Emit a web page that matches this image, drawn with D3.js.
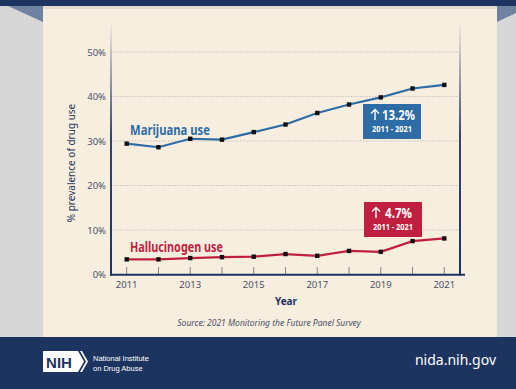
<!DOCTYPE html>
<html>
<head>
<meta charset="utf-8">
<script src="https://cdn.jsdelivr.net/npm/d3@7"></script>
<style>
  body { margin: 0; background: #d7d7d7; }
  svg { display: block; font-family: "Noto Sans", sans-serif; }
</style>
</head>
<body>
<div id="chart"></div>
<script>
var years = [2011, 2012, 2013, 2014, 2015, 2016, 2017, 2018, 2019, 2020, 2021];
var marijuana = [29.4, 28.6, 30.5, 30.3, 32.0, 33.7, 36.3, 38.2, 39.8, 41.8, 42.6];
var hallucinogen = [3.4, 3.4, 3.7, 3.9, 4.0, 4.6, 4.2, 5.3, 5.1, 7.5, 8.1];
var yTicks = [0, 10, 20, 30, 40, 50];
var xTicks = [2011, 2013, 2015, 2017, 2019, 2021];

var width = 516, height = 389;
var navy = "#1d3460";
var blue = "#2e6ca6";
var red = "#c01f3f";

var svg = d3.select('#chart').append('svg')
    .attr('width', width)
    .attr('height', height);

var defs = svg.append('defs');
var fade = defs.append('linearGradient')
    .attr('id', 'axisfade').attr('x1', 0).attr('x2', 0).attr('y1', 0).attr('y2', 1);
fade.append('stop').attr('offset', '0%').attr('stop-color', navy).attr('stop-opacity', 0);
fade.append('stop').attr('offset', '45%').attr('stop-color', navy).attr('stop-opacity', 0.9);
fade.append('stop').attr('offset', '100%').attr('stop-color', navy).attr('stop-opacity', 1);

// background frame
svg.append('rect').attr('width', width).attr('height', height).attr('fill', '#d7d7d7');
svg.append('path').attr('d', 'M8,6 L43,6 L43,22 Z').attr('fill', '#6f82a1');
svg.append('path').attr('d', 'M497,6 L516,6 L516,13 L497,22 Z').attr('fill', '#6f82a1');
svg.append('rect').attr('x', 43).attr('y', 6).attr('width', 454).attr('height', 331).attr('fill', '#f8eedf');
svg.append('rect').attr('x', 43).attr('y', 6).attr('width', 454).attr('height', 3).attr('fill', '#e6ddd0');
svg.append('rect').attr('width', width).attr('height', 6).attr('fill', navy);
svg.append('rect').attr('y', 337).attr('width', width).attr('height', height - 337).attr('fill', navy);

var x = d3.scaleLinear().domain([2011, 2021]).range([126.7, 444.3]);
var y = d3.scaleLinear().domain([0, 50]).range([274.5, 52]);

var g = svg.append('g');

// gridlines
g.selectAll('.grid')
    .data(yTicks.filter(function(d) { return d > 0; })).enter()
  .append('line')
    .attr('x1', 111).attr('x2', 459)
    .attr('y1', function(d) { return y(d); })
    .attr('y2', function(d) { return y(d); })
    .attr('stroke', '#b9b6b0').attr('stroke-width', 0.8)
    .attr('stroke-dasharray', '1.5,1.5');

// x ticks inside the plot
g.selectAll('.xtick')
    .data(years).enter()
  .append('line')
    .attr('x1', function(d) { return x(d); }).attr('x2', function(d) { return x(d); })
    .attr('y1', 267).attr('y2', 274.5)
    .attr('stroke', '#8a8478').attr('stroke-width', 1);

// axes lines
g.append('rect').attr('x', 110).attr('y', 22).attr('width', 2).attr('height', 253.5).attr('fill', 'url(#axisfade)');
g.append('rect').attr('x', 459).attr('y', 22).attr('width', 2).attr('height', 253.5).attr('fill', 'url(#axisfade)');
g.append('line').attr('x1', 110).attr('x2', 465).attr('y1', 274.8).attr('y2', 274.8)
    .attr('stroke', navy).attr('stroke-width', 2);

// y tick labels
g.selectAll('.ylab')
    .data(yTicks).enter()
  .append('text')
    .attr('x', 106).attr('y', function(d) { return y(d) + 3.5; })
    .attr('text-anchor', 'end')
    .attr('font-size', 9.5).attr('fill', '#4a5068')
    .text(function(d) { return d + '%'; });

// x tick labels
g.selectAll('.xlab')
    .data(xTicks).enter()
  .append('text')
    .attr('x', function(d) { return x(d); }).attr('y', 288)
    .attr('text-anchor', 'middle')
    .attr('font-size', 9.5).attr('fill', '#4a5068')
    .text(function(d) { return d; });

// axis titles
g.append('text')
    .attr('transform', 'translate(75,163) rotate(-90)')
    .attr('text-anchor', 'middle')
    .attr('font-size', 10).attr('fill', navy)
    .text('% prevalence of drug use');
g.append('text')
    .attr('x', 286).attr('y', 305)
    .attr('text-anchor', 'middle')
    .attr('font-size', 10).attr('font-weight', 'bold').attr('fill', navy)
    .text('Year');
g.append('text')
    .attr('x', 269).attr('y', 326)
    .attr('text-anchor', 'middle')
    .attr('font-size', 8.5).attr('font-style', 'italic').attr('fill', '#4a5068')
    .text('Source: 2021 Monitoring the Future Panel Survey');

// series
var line = d3.line()
    .x(function(d, i) { return x(years[i]); })
    .y(function(d) { return y(d); });

function drawSeries(values, color) {
  g.append('path')
      .datum(values)
      .attr('d', line)
      .attr('fill', 'none')
      .attr('stroke', color).attr('stroke-width', 2.2);
  g.selectAll(null)
      .data(values).enter()
    .append('rect')
      .attr('x', function(d, i) { return x(years[i]) - 2.2; })
      .attr('y', function(d) { return y(d) - 2.2; })
      .attr('width', 4.4).attr('height', 4.4)
      .attr('fill', '#111');
}
drawSeries(marijuana, blue);
drawSeries(hallucinogen, red);

// series labels
g.append('text')
    .attr('x', 130).attr('y', 135)
    .attr('font-size', 13.5).attr('font-weight', 'bold').attr('fill', blue)
    .attr('textLength', 80).attr('lengthAdjust', 'spacingAndGlyphs')
    .text('Marijuana use');
g.append('text')
    .attr('x', 130).attr('y', 251.5)
    .attr('font-size', 13.5).attr('font-weight', 'bold').attr('fill', red)
    .attr('textLength', 93).attr('lengthAdjust', 'spacingAndGlyphs')
    .text('Hallucinogen use');

// change badges
function badge(bx, by, color, big, tx, tw) {
  g.append('rect')
      .attr('x', bx).attr('y', by).attr('width', 58).attr('height', 35)
      .attr('fill', color);
  // thin up arrow
  g.append('path')
      .attr('d', 'M' + (bx + 12) + ',' + (by + 16) + ' L' + (bx + 12) + ',' + (by + 5.5) +
                 ' M' + (bx + 8) + ',' + (by + 9.5) + ' L' + (bx + 12) + ',' + (by + 5.5) +
                 ' L' + (bx + 16) + ',' + (by + 9.5))
      .attr('fill', 'none').attr('stroke', '#fff').attr('stroke-width', 1.4);
  g.append('text')
      .attr('x', bx + tx).attr('y', by + 16)
      .attr('font-size', 14).attr('font-weight', 'bold').attr('fill', '#fff')
      .attr('textLength', tw).attr('lengthAdjust', 'spacingAndGlyphs')
      .text(big);
  g.append('text')
      .attr('x', bx + 29).attr('y', by + 28)
      .attr('text-anchor', 'middle')
      .attr('font-size', 8.5).attr('font-weight', 'bold').attr('fill', '#fff')
      .attr('textLength', 40).attr('lengthAdjust', 'spacingAndGlyphs')
      .text('2011 - 2021');
}
badge(363, 104, blue, '13.2%', 19, 33);
badge(364, 202, red, '4.7%', 21, 27);

// footer
var foot = svg.append('g');
foot.append('path')
    .attr('d', 'M43,351 L78,351 L84,361.5 L78,372 L43,372 Z')
    .attr('fill', '#fff');
foot.append('path')
    .attr('d', 'M80,351 L82,351 L88,361.5 L82,372 L80,372 L86,361.5 Z')
    .attr('fill', '#fff');
foot.append('text')
    .attr('x', 59).attr('y', 367.5)
    .attr('text-anchor', 'middle')
    .attr('font-family', 'Liberation Sans, Arial, sans-serif')
    .attr('font-size', 15).attr('font-weight', 'bold').attr('fill', navy)
    .text('NIH');
foot.append('text')
    .attr('x', 93).attr('y', 361)
    .attr('font-family', 'Liberation Sans, Arial, sans-serif')
    .attr('font-size', 7.5).attr('fill', '#fff')
    .text('National Institute');
foot.append('text')
    .attr('x', 93).attr('y', 371)
    .attr('font-family', 'Liberation Sans, Arial, sans-serif')
    .attr('font-size', 7.5).attr('fill', '#fff')
    .text('on Drug Abuse');
foot.append('text')
    .attr('x', 496).attr('y', 365)
    .attr('text-anchor', 'end')
    .attr('font-size', 14).attr('fill', '#fff')
    .text('nida.nih.gov');
</script>
</body>
</html>
